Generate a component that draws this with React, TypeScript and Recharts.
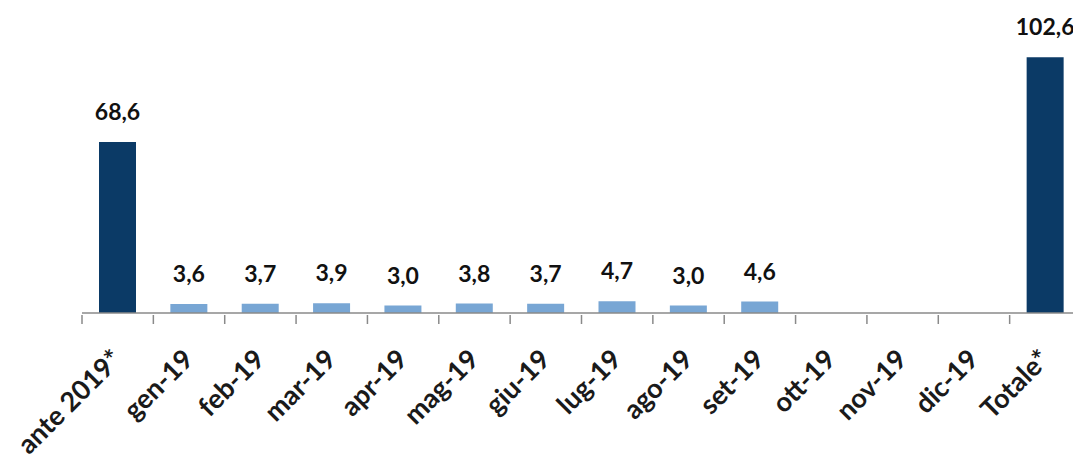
import React from 'react';
import { BarChart, Bar, XAxis, YAxis, Cell, LabelList } from 'recharts';

const categories = ['ante 2019*', 'gen-19', 'feb-19', 'mar-19', 'apr-19', 'mag-19', 'giu-19', 'lug-19', 'ago-19', 'set-19', 'ott-19', 'nov-19', 'dic-19', 'Totale*'];
const values: (number | null)[] = [68.6, 3.6, 3.7, 3.9, 3.0, 3.8, 3.7, 4.7, 3.0, 4.6, null, null, null, 102.6];

const DARK = '#0B3A66';
const LIGHT = '#78A6D4';
const AXIS = '#8a8a8a';
const FONT = 'Lato, "Open Sans", sans-serif';

const data = categories.map((name, i) => ({ name, value: values[i] }));

const fmt = (v: number) => v.toFixed(1).replace('.', ',');

const CatTick = (props: any) => {
  const { x, y, payload } = props;
  const half = payload && typeof payload.offset === 'number' && payload.offset > 0 ? payload.offset : 35.68;
  return (
    <g>
      <line x1={x - half} y1={y} x2={x - half} y2={y + 9} stroke={AXIS} strokeWidth={1.5} />
      <g transform={`translate(${x + 6},${y + 46})`}>
        <text x={0} y={0} textAnchor="end" transform="rotate(-45)" fontFamily={FONT} fontWeight={700} fontSize={27} fill="#1a1a1a">
          {payload.value}
        </text>
      </g>
    </g>
  );
};

const ValueLabel = (props: any) => {
  const { x, y, width, value } = props;
  if (value === null || value === undefined) return null;
  return (
    <text x={x + width / 2} y={y - 22} textAnchor="middle" fontFamily={FONT} fontWeight={700} fontSize={23} fill="#111">
      {fmt(value)}
    </text>
  );
};

export default function App() {
  return (
    <div style={{ marginLeft: -8, marginTop: -8, width: 1081, height: 456, background: '#fff' }}>
      <BarChart width={1081} height={456} data={data} margin={{ top: 14, right: 0, left: 82, bottom: 83 }}>
        <YAxis hide domain={[0, 120]} />
        <XAxis
          dataKey="name"
          interval={0}
          tickLine={false}
          tickSize={0}
          axisLine={{ stroke: AXIS, strokeWidth: 1.5 }}
          height={60}
          tick={<CatTick />}
        />
        <Bar dataKey="value" barSize={37} isAnimationActive={false}>
          {data.map((d, i) => (
            <Cell key={i} fill={i === 0 || i === data.length - 1 ? DARK : LIGHT} />
          ))}
          <LabelList dataKey="value" content={<ValueLabel />} />
        </Bar>
      </BarChart>
    </div>
  );
}
